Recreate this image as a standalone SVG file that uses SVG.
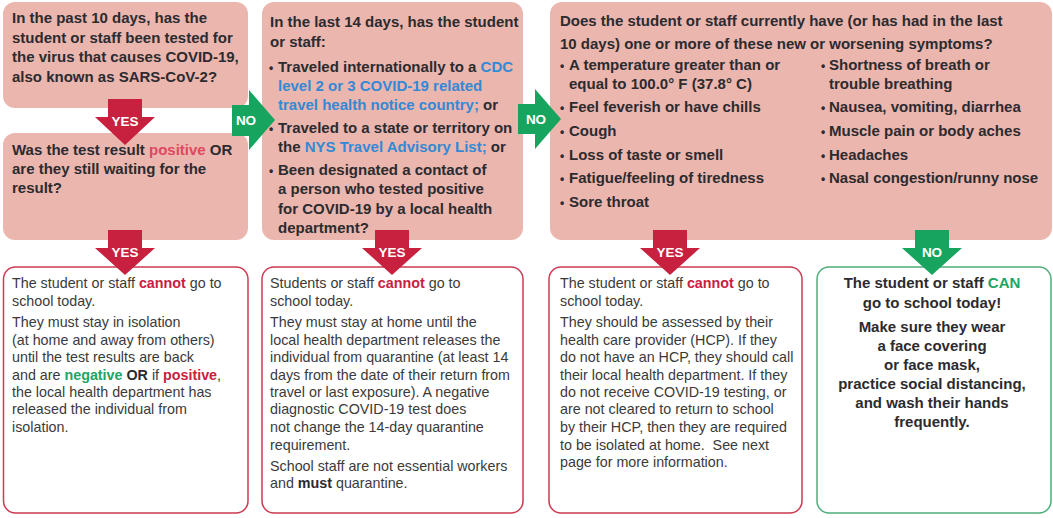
<svg xmlns="http://www.w3.org/2000/svg" width="1053" height="518" viewBox="0 0 1053 518">
<style>
.box{fill:#EBB6AD}
.q{font-family:"Liberation Sans",Arial,sans-serif;font-size:15px;font-weight:bold;fill:#2b2b30}
.bul{font-family:"Liberation Sans",Arial,sans-serif;font-size:12px;font-weight:bold;fill:#2b2b30}
.out{fill:#fff;stroke:#CD3A52;stroke-width:1.5}
.outg{fill:#fff;stroke:#4DAE7B;stroke-width:1.5}
.t{font-family:"Liberation Sans",Arial,sans-serif;font-size:14.3px;fill:#3a3a3a;white-space:pre}
.tb{font-family:"Liberation Sans",Arial,sans-serif;font-size:15px;font-weight:bold;fill:#2b2b30;text-anchor:middle}
.ar{fill:#C8203F}
.ag{fill:#17A45E}
.lbl{font-family:"Liberation Sans",Arial,sans-serif;font-size:13.5px;font-weight:bold;fill:#fff;text-anchor:middle}
.blue{fill:#3389D6}
.pink{fill:#DE4862}
.red{fill:#C8203F;font-weight:bold}
.grn{fill:#22A463;font-weight:bold}
.b{font-weight:bold;fill:#2b2b30}
</style>
<rect width="1053" height="518" fill="#fff"/>

<g id="q1">
<rect class="box" x="3" y="2" width="245" height="106" rx="12"/>
<text class="q" x="12" y="23">In the past 10 days, has the</text>
<text class="q" x="12" y="43">student or staff been tested for</text>
<text class="q" x="12" y="62">the virus that causes COVID-19,</text>
<text class="q" x="12" y="82">also known as SARS-CoV-2?</text>
</g>

<g id="q2">
<rect class="box" x="3" y="133" width="245" height="107" rx="12"/>
<text class="q" x="12" y="155">Was the test result <tspan class="pink">positive</tspan> OR</text>
<text class="q" x="12" y="174">are they still waiting for the</text>
<text class="q" x="12" y="193">result?</text>
</g>

<g id="q3">
<rect class="box" x="262" y="2" width="261" height="238" rx="12"/>
<text class="q" x="270" y="27">In the last 14 days, has the student</text>
<text class="q" x="270" y="47">or staff:</text>
<text class="bul" x="269" y="72">•</text>
<text class="q" x="278" y="72">Traveled internationally to a <tspan class="blue">CDC</tspan></text>
<text class="q blue" x="278" y="91">level 2 or 3 COVID-19 related</text>
<text class="q" x="278" y="110"><tspan class="blue">travel health notice country;</tspan> or</text>
<text class="bul" x="269" y="133">•</text>
<text class="q" x="278" y="133">Traveled to a state or territory on</text>
<text class="q" x="278" y="152">the <tspan class="blue">NYS Travel Advisory List;</tspan> or</text>
<text class="bul" x="269" y="175">•</text>
<text class="q" x="278" y="175">Been designated a contact of</text>
<text class="q" x="278" y="194">a person who tested positive</text>
<text class="q" x="278" y="214">for COVID-19 by a local health</text>
<text class="q" x="278" y="233">department?</text>
</g>

<g id="q4">
<rect class="box" x="550" y="2" width="502" height="238" rx="12"/>
<text class="q" x="560" y="26">Does the student or staff currently have (or has had in the last</text>
<text class="q" x="560" y="49">10 days) one or more of these new or worsening symptoms?</text>
<text class="bul" x="560" y="70">•</text><text class="q" x="569" y="70">A temperature greater than or</text>
<text class="q" x="569" y="89">equal to 100.0° F (37.8° C)</text>
<text class="bul" x="560" y="112">•</text><text class="q" x="569" y="112">Feel feverish or have chills</text>
<text class="bul" x="560" y="136">•</text><text class="q" x="569" y="136">Cough</text>
<text class="bul" x="560" y="160">•</text><text class="q" x="569" y="160">Loss of taste or smell</text>
<text class="bul" x="560" y="183">•</text><text class="q" x="569" y="183">Fatigue/feeling of tiredness</text>
<text class="bul" x="560" y="207">•</text><text class="q" x="569" y="207">Sore throat</text>
<text class="bul" x="821" y="70">•</text><text class="q" x="829" y="70">Shortness of breath or</text>
<text class="q" x="829" y="89">trouble breathing</text>
<text class="bul" x="821" y="112">•</text><text class="q" x="829" y="112">Nausea, vomiting, diarrhea</text>
<text class="bul" x="821" y="136">•</text><text class="q" x="829" y="136">Muscle pain or body aches</text>
<text class="bul" x="821" y="160">•</text><text class="q" x="829" y="160">Headaches</text>
<text class="bul" x="821" y="183">•</text><text class="q" x="829" y="183">Nasal congestion/runny nose</text>
</g>

<g id="r1">
<rect class="out" x="3.5" y="267" width="244.5" height="246" rx="12"/>
<text class="t" x="12" y="288">The student or staff <tspan class="red">cannot</tspan> go to</text>
<text class="t" x="12" y="306">school today.</text>
<text class="t" x="12" y="327">They must stay in isolation</text>
<text class="t" x="12" y="345">(at home and away from others)</text>
<text class="t" x="12" y="362">until the test results are back</text>
<text class="t" x="12" y="380">and are <tspan class="grn">negative</tspan> <tspan class="b">OR</tspan> if <tspan class="red">positive</tspan>,</text>
<text class="t" x="12" y="397">the local health department has</text>
<text class="t" x="12" y="414">released the individual from</text>
<text class="t" x="12" y="432">isolation.</text>
</g>

<g id="r2">
<rect class="out" x="262" y="267" width="261" height="246" rx="12"/>
<text class="t" x="270" y="288">Students or staff <tspan class="red">cannot</tspan> go to</text>
<text class="t" x="270" y="306">school today.</text>
<text class="t" x="270" y="327">They must stay at home until the</text>
<text class="t" x="270" y="345">local health department releases the</text>
<text class="t" x="270" y="362">individual from quarantine (at least 14</text>
<text class="t" x="270" y="380">days from the date of their return from</text>
<text class="t" x="270" y="397">travel or last exposure). A negative</text>
<text class="t" x="270" y="414">diagnostic COVID-19 test does</text>
<text class="t" x="270" y="432">not change the 14-day quarantine</text>
<text class="t" x="270" y="450">requirement.</text>
<text class="t" x="270" y="471">School staff are not essential workers</text>
<text class="t" x="270" y="488">and <tspan class="b">must</tspan> quarantine.</text>
</g>

<g id="r3">
<rect class="out" x="549" y="267" width="253" height="246" rx="12"/>
<text class="t" x="560" y="288">The student or staff <tspan class="red">cannot</tspan> go to</text>
<text class="t" x="560" y="306">school today.</text>
<text class="t" x="560" y="327">They should be assessed by their</text>
<text class="t" x="560" y="345">health care provider (HCP). If they</text>
<text class="t" x="560" y="362">do not have an HCP, they should call</text>
<text class="t" x="560" y="380">their local health department. If they</text>
<text class="t" x="560" y="397">do not receive COVID-19 testing, or</text>
<text class="t" x="560" y="414">are not cleared to return to school</text>
<text class="t" x="560" y="432">by their HCP, then they are required</text>
<text class="t" x="560" y="450">to be isolated at home.  See next</text>
<text class="t" x="560" y="467">page for more information.</text>
</g>

<g id="r4">
<rect class="outg" x="817" y="267" width="234" height="246" rx="12"/>
<text class="tb" x="932" y="288">The student or staff <tspan fill="#22A463">CAN</tspan></text>
<text class="tb" x="932" y="308">go to school today!</text>
<text class="tb" x="932" y="332">Make sure they wear</text>
<text class="tb" x="932" y="351">a face covering</text>
<text class="tb" x="932" y="370">or face mask,</text>
<text class="tb" x="932" y="389">practice social distancing,</text>
<text class="tb" x="932" y="408">and wash their hands</text>
<text class="tb" x="932" y="427">frequently.</text>
</g>

<g id="connectors">
<polygon class="ar" points="108,99 142,99 142,117 155,117 125,145 95,117 108,117"/>
<text class="lbl" x="125" y="126">YES</text>
<polygon class="ag" points="232,105 249,105 249,90 275,120 249,150 249,136 232,136"/>
<text class="lbl" x="246" y="125">NO</text>
<polygon class="ag" points="518,104 535,104 535,89 561,119 535,149 535,134 518,134"/>
<text class="lbl" x="536" y="124">NO</text>
<polygon class="ar" points="108,230 142,230 142,248 155,248 125,275 95,248 108,248"/>
<text class="lbl" x="125" y="257">YES</text>
<polygon class="ar" points="375,230 409,230 409,248 422,248 392,275 362,248 375,248"/>
<text class="lbl" x="392" y="257">YES</text>
<polygon class="ar" points="653,230 687,230 687,248 700,248 670,275 640,248 653,248"/>
<text class="lbl" x="670" y="257">YES</text>
<polygon class="ag" points="915,230 949,230 949,248 962,248 932,275 902,248 915,248"/>
<text class="lbl" x="932" y="257">NO</text>
</g>
</svg>
